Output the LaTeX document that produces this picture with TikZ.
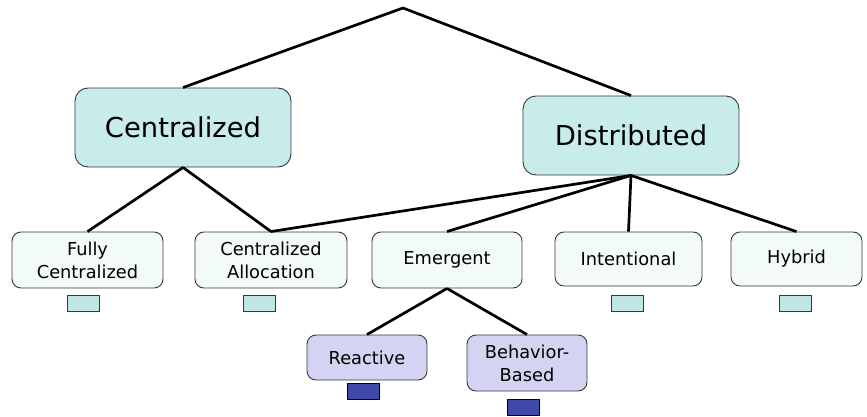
\documentclass[tikz,border=0pt]{standalone}
\usepackage{fontspec}
\setmainfont{DejaVu Sans}
\definecolor{topfill}{HTML}{C8EBEB}
\definecolor{midfill}{HTML}{F2FAFA}
\definecolor{tagfill}{HTML}{C2E6E6}
\definecolor{subfill}{HTML}{D4D4F2}
\definecolor{subtag}{HTML}{4048A8}
\definecolor{edgegray}{HTML}{383838}
\begin{document}
\begin{tikzpicture}[x=1pt,y=-1pt,
  box/.style={draw=edgegray,line width=0.9pt,rounded corners=9pt,align=center,inner sep=0pt},
  bigbox/.style={box,fill=topfill,minimum width=216pt,minimum height=79pt,font=\fontsize{27.4}{30}\selectfont,rounded corners=13pt},
  midbox/.style={box,fill=midfill,minimum height=56pt,font=\fontsize{17.8}{23}\selectfont},
  subbox/.style={box,fill=subfill,minimum width=120pt,font=\fontsize{17.8}{23}\selectfont},
  tag/.style={draw=edgegray,line width=0.7pt,fill=tagfill,minimum width=32pt,minimum height=16pt,inner sep=0pt},
  darktag/.style={tag,fill=subtag,draw=black},
  link/.style={line width=2.7pt,black}]
\useasboundingbox (0,0) rectangle (867,417);

% root point and the two main branches
\coordinate (root) at (403,8);
\node[bigbox] (cen) at (183,127.5) {Centralized};
\node[bigbox] (dis) at (631,135.5) {Distributed};

% second level
\node[midbox,minimum width=151pt] (full) at (87.5,260) {Fully\\Centralized};
\node[midbox,minimum width=152pt] (alloc) at (271,260) {Centralized\\Allocation};
\node[midbox,minimum width=150pt] (emer) at (447,260) {Emergent};
\node[midbox,minimum width=147pt,minimum height=54pt] (inte) at (628.5,259) {Intentional};
\node[midbox,minimum width=131pt,minimum height=54pt] (hyb) at (796.5,259) {Hybrid};

% third level under Emergent
\node[subbox,minimum height=45pt] (reac) at (367,357.5) {Reactive};
\node[subbox,minimum height=56pt] (beh) at (527,363) {Behavior-\\Based};

% small markers below the boxes
\node[tag] (tfull) at (83,303) {};
\node[tag] (talloc) at (259,303) {};
\node[tag] (tinte) at (627,303) {};
\node[tag] (thyb) at (795,303) {};
\node[darktag] (treac) at (363,391) {};
\node[darktag] (tbeh) at (523,407) {};

% connectors
\draw[link] (root) -- (cen.north);
\draw[link] (root) -- (dis.north);
\draw[link] (cen.south) -- (full.north);
\draw[link] (cen.south) -- (alloc.north);
\draw[link] (dis.south) -- (alloc.north);
\draw[link] (dis.south) -- (emer.north);
\draw[link] (dis.south) -- (inte.north);
\draw[link] (dis.south) -- (hyb.north);
\draw[link] (emer.south) -- (reac.north);
\draw[link] (emer.south) -- (beh.north);
\end{tikzpicture}
\end{document}
